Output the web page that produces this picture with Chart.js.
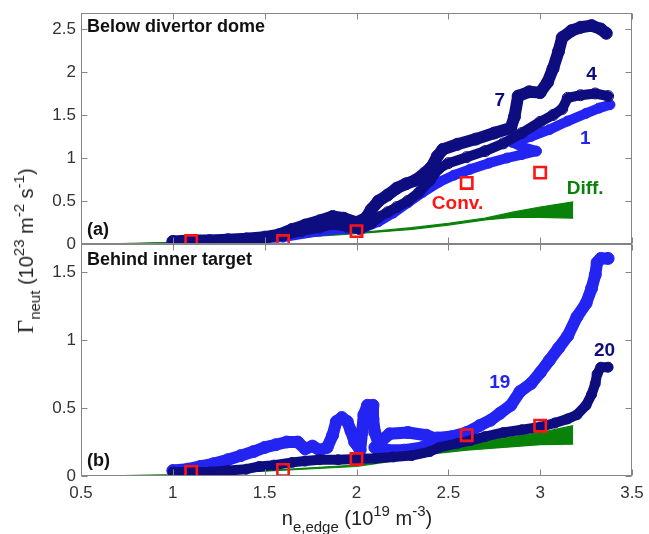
<!DOCTYPE html>
<html><head><meta charset="utf-8">
<script src="https://cdn.jsdelivr.net/npm/chart.js@4.4.1/dist/chart.umd.min.js"></script>
<style>
html,body{margin:0;padding:0;background:#fff;}
#wrap{position:relative;width:649px;height:534px;overflow:hidden;font-family:"Liberation Sans",Arial,sans-serif;color:#222;}
#c1box{position:absolute;left:0;top:0;width:649px;height:256px;}
#c2box{position:absolute;left:0;top:230px;width:649px;height:304px;}
#ytitle{position:absolute;left:25px;top:251px;transform:translate(-50%,-50%) rotate(-90deg);white-space:nowrap;font-size:20px;line-height:1;}
#xtitle{position:absolute;left:357px;top:518px;transform:translate(-50%,-50%);white-space:nowrap;font-size:20px;line-height:1;}
.sub{font-size:15px;position:relative;top:7px;}
.sup{font-size:15px;position:relative;top:-9px;}
.gam{font-family:"Liberation Serif","Times New Roman",serif;font-size:24px;}
</style></head>
<body>
<div id="wrap">
  <div id="c1box"><canvas id="c1" width="649" height="256"></canvas></div>
  <div id="c2box"><canvas id="c2" width="649" height="304"></canvas></div>
  <div id="ytitle"><span class="gam">Γ</span><span class="sub">neut</span> (10<span class="sup">23</span> m<span class="sup">-2</span> s<span class="sup">-1</span>)</div>
  <div id="xtitle">n<span class="sub">e,edge</span> (10<span class="sup">19</span> m<span class="sup">-3</span>)</div>
</div>
<script>
// ---------------- data ----------------
const xTickVals  = [0.5, 1, 1.5, 2, 2.5, 3, 3.5];
const yTickValsA = [0, 0.5, 1, 1.5, 2, 2.5];
const yTickValsB = [0, 0.5, 1, 1.5];

// Panel (a) Below divertor dome
const a7 = [[1.00,0.03],[1.10,0.04],[1.20,0.04],[1.30,0.05],[1.40,0.06],[1.50,0.08],[1.58,0.11],[1.65,0.17],[1.72,0.22],[1.80,0.27],[1.87,0.32],[1.93,0.30],[2.00,0.25],[2.05,0.30],[2.08,0.40],[2.12,0.50],[2.17,0.57],[2.22,0.65],[2.27,0.70],[2.32,0.74],[2.37,0.82],[2.41,0.90],[2.44,1.02],[2.47,1.10],[2.55,1.16],[2.65,1.22],[2.75,1.29],[2.84,1.35],[2.86,1.48],[2.88,1.72],[2.94,1.77],[3.00,1.76],[3.04,1.88],[3.07,2.04],[3.10,2.24],[3.12,2.40],[3.17,2.48],[3.22,2.52],[3.28,2.54],[3.33,2.50],[3.36,2.45]];
const a4 = [[1.00,0.02],[1.10,0.03],[1.20,0.03],[1.30,0.04],[1.40,0.05],[1.50,0.07],[1.60,0.10],[1.70,0.15],[1.80,0.19],[1.87,0.23],[1.95,0.20],[2.02,0.17],[2.08,0.24],[2.12,0.31],[2.17,0.37],[2.22,0.43],[2.28,0.50],[2.34,0.60],[2.40,0.74],[2.45,0.88],[2.50,0.94],[2.60,1.01],[2.70,1.08],[2.80,1.17],[2.90,1.29],[3.00,1.42],[3.07,1.50],[3.12,1.57],[3.15,1.70],[3.22,1.73],[3.30,1.75],[3.37,1.72]];
const a1 = [[1.00,0.02],[1.20,0.03],[1.40,0.05],[1.60,0.08],[1.80,0.15],[1.95,0.18],[2.05,0.20],[2.12,0.26],[2.20,0.36],[2.28,0.48],[2.36,0.60],[2.45,0.72],[2.53,0.80],[2.62,0.87],[2.72,0.94],[2.82,1.00],[2.90,1.04],[2.98,1.08],[2.90,1.13],[2.85,1.18],[2.95,1.25],[3.05,1.33],[3.15,1.43],[3.25,1.52],[3.32,1.58],[3.38,1.62]];
const aDiffHi = [[0.60,0.00],[1.00,0.02],[1.50,0.06],[2.00,0.13],[2.30,0.19],[2.50,0.24],[2.70,0.30],[2.85,0.37],[3.00,0.43],[3.18,0.49]];
const aDiffLo = [[0.60,0.00],[1.00,0.01],[1.50,0.05],[2.00,0.12],[2.30,0.17],[2.50,0.22],[2.70,0.28],[2.85,0.31],[3.00,0.31],[3.18,0.30]];
const aConv = [[1.1,0.035],[1.6,0.035],[2.0,0.15],[2.6,0.71],[3.0,0.83]];

// Panel (b) Behind inner target
const b19 = [[1.00,0.04],[1.08,0.05],[1.15,0.07],[1.22,0.09],[1.30,0.12],[1.37,0.15],[1.44,0.18],[1.50,0.21],[1.56,0.23],[1.62,0.25],[1.68,0.25],[1.72,0.20],[1.76,0.22],[1.80,0.19],[1.84,0.21],[1.87,0.30],[1.89,0.40],[1.92,0.43],[1.95,0.40],[1.97,0.33],[1.99,0.25],[2.02,0.19],[2.03,0.32],[2.04,0.45],[2.06,0.52],[2.09,0.52],[2.09,0.42],[2.10,0.32],[2.12,0.24],[2.18,0.31],[2.28,0.32],[2.38,0.30],[2.44,0.27],[2.36,0.21],[2.26,0.19],[2.17,0.19],[2.10,0.21],[2.30,null],[2.44,0.28],[2.52,0.29],[2.60,0.32],[2.67,0.37],[2.73,0.41],[2.78,0.46],[2.84,0.52],[2.89,0.62],[2.95,0.68],[3.00,0.76],[3.05,0.85],[3.10,0.94],[3.15,1.03],[3.20,1.17],[3.25,1.27],[3.28,1.38],[3.30,1.48],[3.31,1.57],[3.33,1.60],[3.37,1.60]];
const b20 = [[1.00,0.03],[1.10,0.03],[1.20,0.03],[1.30,0.04],[1.40,0.05],[1.47,0.07],[1.55,0.08],[1.65,0.10],[1.72,0.11],[1.80,0.12],[1.90,0.12],[2.00,0.125],[2.10,0.13],[2.20,0.14],[2.30,0.15],[2.40,0.18],[2.45,0.21],[2.55,0.24],[2.62,0.26],[2.70,0.29],[2.80,0.32],[2.90,0.34],[3.00,0.36],[3.08,0.39],[3.15,0.42],[3.20,0.45],[3.25,0.52],[3.28,0.60],[3.30,0.68],[3.31,0.75],[3.33,0.80],[3.37,0.80]];
const bDiffHi = [[0.60,0.00],[1.00,0.01],[1.50,0.04],[2.00,0.08],[2.20,0.12],[2.40,0.17],[2.60,0.23],[2.80,0.28],[3.00,0.32],[3.18,0.37]];
const bDiffLo = [[0.60,0.00],[1.00,0.005],[1.50,0.035],[2.00,0.07],[2.20,0.11],[2.40,0.16],[2.60,0.19],[2.80,0.21],[3.00,0.23],[3.18,0.235]];
const bConv = [[1.1,0.03],[1.6,0.045],[2.0,0.125],[2.6,0.30],[3.0,0.37]];

// annotation labels (data coordinates)
const aLabels = [["7",2.78,1.66,"navy"],["4",3.28,1.965,"navy"],["1",3.245,1.22,"blue"],["Conv.",2.55,0.465,"red"],["Diff.",3.245,0.64,"green"]];
const bLabels = [["19",2.78,0.684,"blue"],["20",3.35,0.92,"navy"]];

// ---------------- styling ----------------
const COL = {navy:'#0d0d80', blue:'#2424f2', red:'#ff1414', green:'#0a820a'};
const FONT = '"Liberation Sans", Arial, sans-serif';
const pts = arr => arr.map(p => ({x:p[0], y:p[1]}));

function band(arr, color, lw, r) {
  return {data: pts(arr), showLine: true, borderColor: color, borderWidth: lw, tension: 0,
    borderJoinStyle: 'round', borderCapStyle: 'round', spanGaps: false,
    pointRadius: r, pointBorderWidth: 1, pointBorderColor: color, pointBackgroundColor: 'rgba(0,0,0,0)', clip: 0};
}
function diff(hi, lo) {
  return [
    {data: pts(hi), showLine: true, borderColor: COL.green, borderWidth: 1.2, pointRadius: 0, fill: false, clip: 0},
    {data: pts(lo), showLine: true, borderColor: COL.green, borderWidth: 1.2, pointRadius: 0, fill: '-1', backgroundColor: COL.green, clip: 0}
  ];
}
function conv(arr) {
  return {data: pts(arr), showLine: false, pointStyle: 'rect', pointRadius: 8, pointBorderWidth: 2.6,
    pointBorderColor: COL.red, pointBackgroundColor: 'rgba(0,0,0,0)', clip: 0};
}

const framePlugin = {
  id: 'frame',
  afterDatasetsDraw(chart, args, o) {
    const ctx = chart.ctx, a = chart.chartArea, sx = chart.scales.x, sy = chart.scales.y;
    const L = Math.round(a.left) + 0.5, R = Math.round(a.right) - 0.5, T = Math.round(a.top) + 0.5, B = Math.round(a.bottom) - 0.5;
    ctx.save();
    ctx.strokeStyle = '#858585'; ctx.lineWidth = 1;
    ctx.strokeRect(L, T, R - L, B - T);
    ctx.beginPath();
    const tl = 6;
    xTickVals.forEach(v => { const px = Math.round(sx.getPixelForValue(v)) + 0.5;
      ctx.moveTo(px, B); ctx.lineTo(px, B - tl); ctx.moveTo(px, T); ctx.lineTo(px, T + tl); });
    o.yticks.forEach(v => { const py = Math.round(sy.getPixelForValue(v)) + 0.5;
      ctx.moveTo(L, py); ctx.lineTo(L + tl, py); ctx.moveTo(R, py); ctx.lineTo(R - tl, py); });
    ctx.stroke();
    // panel titles
    ctx.fillStyle = '#111'; ctx.textBaseline = 'middle'; ctx.textAlign = 'left';
    ctx.font = 'bold 18px ' + FONT;
    ctx.fillText(o.title, a.left + 6, a.top + o.titleDy);
    ctx.fillText(o.tag, a.left + 6, a.bottom - o.tagDy);
    // annotation labels
    ctx.textAlign = 'center';
    o.labels.forEach(l => {
      ctx.fillStyle = COL[l[3]];
      ctx.font = 'bold 19px ' + FONT;
      ctx.fillText(l[0], sx.getPixelForValue(l[1]), sy.getPixelForValue(l[2]));
    });
    ctx.restore();
  }
};

function yScale(max, ticks) {
  return {type: 'linear', min: 0, max: max,
    afterBuildTicks: s => { s.ticks = ticks.map(v => ({value: v})); },
    afterFit: s => { s.width = 81; s.paddingTop = 0; s.paddingBottom = 0; },
    grid: {display: false, drawTicks: false}, border: {display: false},
    ticks: {color: '#333', font: {family: FONT, size: 17}, padding: 5, callback: v => String(v)}};
}
function xScale(showLabels, h) {
  return {type: 'linear', min: 0.5, max: 3.5, display: true,
    afterBuildTicks: s => { s.ticks = xTickVals.map(v => ({value: v})); },
    afterFit: s => { s.height = h; s.paddingLeft = 0; s.paddingRight = 0; },
    grid: {display: false, drawTicks: false}, border: {display: false},
    ticks: {display: showLabels, color: '#333', font: {family: FONT, size: 17}, padding: 7, maxRotation: 0, callback: v => String(v)}};
}

new Chart(document.getElementById('c1'), {
  type: 'scatter',
  data: {datasets: [conv(aConv), band(a7, COL.navy, 12, 6), band(a4, COL.navy, 10, 5.5), band(a1, COL.blue, 10, 5), ...diff(aDiffHi, aDiffLo)]},
  options: {responsive: false, animation: false, devicePixelRatio: 1,
    layout: {padding: {top: 13, right: 17, bottom: 0, left: 0}},
    scales: {x: xScale(false, 12), y: yScale(2.686, yTickValsA)},
    plugins: {legend: {display: false}, tooltip: {enabled: false},
      frame: {yticks: yTickValsA, title: 'Below divertor dome', titleDy: 14, tag: '(a)', tagDy: 14, labels: aLabels}}},
  plugins: [framePlugin]
});

new Chart(document.getElementById('c2'), {
  type: 'scatter',
  data: {datasets: [conv(bConv), band(b20, COL.navy, 10, 5), band(b19, COL.blue, 12, 6), ...diff(bDiffHi, bDiffLo)]},
  options: {responsive: false, animation: false, devicePixelRatio: 1,
    layout: {padding: {top: 14, right: 17, bottom: 0, left: 0}},
    scales: {x: xScale(true, 58), y: yScale(1.706, yTickValsB)},
    plugins: {legend: {display: false}, tooltip: {enabled: false},
      frame: {yticks: yTickValsB, title: 'Behind inner target', titleDy: 16, tag: '(b)', tagDy: 15, labels: bLabels}}},
  plugins: [framePlugin]
});
</script>
</body></html>
